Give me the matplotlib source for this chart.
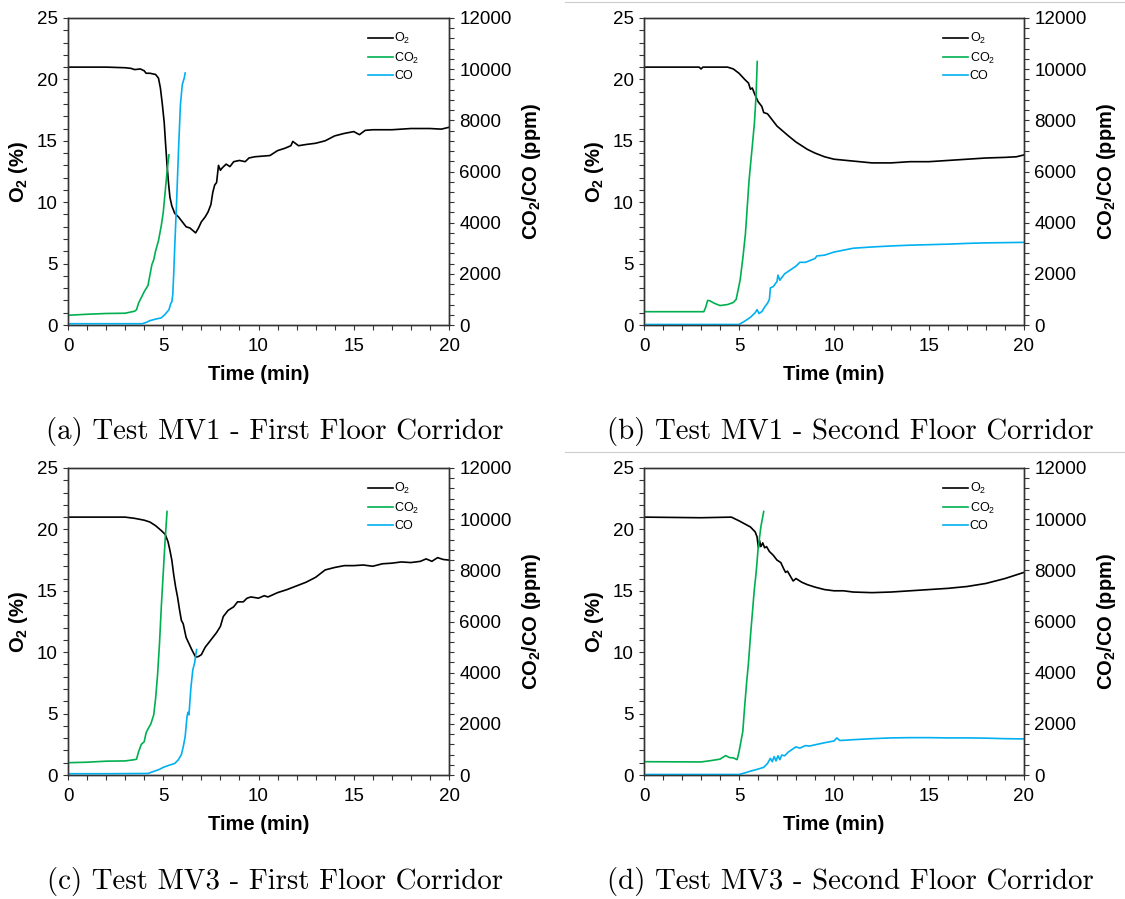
import matplotlib
matplotlib.use('Agg')
import matplotlib.pyplot as plt
from matplotlib.lines import Line2D
from matplotlib.ticker import MultipleLocator

plt.rcParams['font.family'] = ['Liberation Sans', 'DejaVu Sans']
plt.rcParams['mathtext.fontset'] = 'custom'
plt.rcParams['mathtext.rm'] = 'Liberation Sans'
plt.rcParams['mathtext.bf'] = 'Liberation Sans:bold'
plt.rcParams['mathtext.default'] = 'regular'

# ---- (a) MV1 first floor ----
t_o2_a = [0, 1, 2, 3, 3.3, 3.5, 3.8, 4.0, 4.1, 4.3, 4.6, 4.75, 4.85, 4.95, 5.05, 5.12, 5.2, 5.28,
          5.35, 5.45, 5.6, 5.8, 6.0, 6.2, 6.4, 6.55, 6.7, 6.85, 7.0, 7.2, 7.35, 7.5, 7.6, 7.7, 7.8,
          7.9, 8.0, 8.1, 8.3, 8.5, 8.7, 9.0, 9.3, 9.5, 9.8, 10.2, 10.6, 11.0, 11.4, 11.7, 11.8, 12.1,
          12.5, 13.0, 13.5, 14.0, 14.5, 15.0, 15.3, 15.6, 16.0, 17.0, 18.0, 19.0, 19.6, 20.0]
o2_a = [21.0, 21.0, 21.0, 20.95, 20.9, 20.8, 20.85, 20.7, 20.5, 20.5, 20.4, 20.1, 19.3, 18.0, 16.5,
        14.8, 13.0, 11.5, 10.4, 9.7, 9.1, 8.8, 8.4, 8.0, 7.9, 7.7, 7.5, 7.9, 8.4, 8.8, 9.2, 9.8, 10.8,
        11.4, 11.6, 13.0, 12.6, 12.8, 13.1, 12.9, 13.3, 13.4, 13.3, 13.6, 13.7, 13.75, 13.8, 14.2,
        14.4, 14.6, 14.95, 14.6, 14.7, 14.8, 15.0, 15.4, 15.6, 15.75, 15.5, 15.85, 15.9, 15.9, 16.0,
        16.0, 15.95, 16.1]
t_co2_a = [0, 1, 2, 3, 3.5, 3.6, 3.7, 3.8, 4.0, 4.2, 4.4, 4.5, 4.6, 4.75, 4.9, 5.0, 5.1, 5.2, 5.3]
co2_a = [380, 420, 450, 460, 540, 600, 850, 1000, 1300, 1550, 2350, 2550, 2900, 3300, 3900, 4400,
         5200, 6000, 6650]
t_co_a = [0, 2, 3.9, 4.1, 4.3, 4.6, 4.9, 5.1, 5.3, 5.4, 5.45, 5.5, 5.55, 5.6, 5.7, 5.8, 5.9, 6.0,
          6.1, 6.15]
co_a = [50, 50, 50, 100, 170, 230, 280, 420, 600, 850, 900, 1200, 2000, 3000, 4800, 6800, 8600,
        9400, 9650, 9850]

# ---- (b) MV1 second floor ----
t_o2_b = [0, 2.9, 3.0, 3.1, 4.4, 4.7, 5.0, 5.3, 5.5, 5.6, 5.7, 5.8, 6.0, 6.2, 6.3, 6.5, 6.8, 7.0,
          7.3, 7.6, 8.0, 8.3, 8.6, 9.0, 9.5, 10.0, 11.0, 12.0, 13.0, 14.0, 15.0, 16.0, 17.0, 18.0,
          19.0, 19.6, 20.0]
o2_b = [21.0, 21.0, 20.85, 21.0, 21.0, 20.85, 20.5, 20.0, 19.7, 19.2, 19.3, 18.9, 18.2, 17.8, 17.3,
        17.2, 16.6, 16.2, 15.8, 15.4, 14.9, 14.6, 14.3, 14.0, 13.7, 13.5, 13.35, 13.2, 13.2, 13.3,
        13.3, 13.4, 13.5, 13.6, 13.65, 13.7, 13.85]
t_co2_b = [0, 3.15, 3.25, 3.35, 3.45, 3.7, 4.0, 4.4, 4.7, 4.85, 5.06, 5.2, 5.34, 5.53, 5.7, 5.81,
           5.9, 5.96]
co2_b = [520, 520, 700, 960, 950, 850, 760, 800, 880, 1000, 1760, 2600, 3580, 5660, 7000, 7880,
         9000, 10300]
t_co_b = [0, 5.0, 5.3, 5.6, 5.85, 5.95, 6.05, 6.2, 6.35, 6.5, 6.6, 6.65, 6.8, 7.0, 7.05, 7.15, 7.4,
          7.7, 8.0, 8.2, 8.5, 9.0, 9.1, 9.5, 10.0, 11.0, 12.0, 13.0, 14.0, 15.0, 16.0, 17.0, 18.0,
          19.0, 20.0]
co_b = [20, 20, 150, 300, 480, 600, 450, 520, 700, 850, 1000, 1450, 1500, 1700, 1950, 1750, 2000,
        2150, 2300, 2450, 2450, 2600, 2700, 2730, 2850, 3000, 3050, 3090, 3120, 3140, 3160, 3190,
        3210, 3220, 3230]

# ---- (c) MV3 first floor ----
t_o2_c = [0, 3, 3.5, 4, 4.3, 4.6, 4.9, 5.1, 5.25, 5.35, 5.45, 5.55, 5.65, 5.75, 5.85, 5.95, 6.05,
          6.2, 6.35, 6.5, 6.7, 6.85, 7.0, 7.2, 7.5, 7.8, 8.0, 8.15, 8.4, 8.7, 8.9, 9.2, 9.4, 9.6,
          10.0, 10.3, 10.5, 11.0, 11.5, 12.0, 12.5, 13.0, 13.5, 14.0, 14.5, 15.0, 15.5, 16.0, 16.5,
          17.0, 17.5, 18.0, 18.5, 18.8, 19.1, 19.4, 19.7, 20.0]
o2_c = [21.0, 21.0, 20.9, 20.75, 20.6, 20.3, 19.9, 19.6, 19.0, 18.3, 17.5, 16.3, 15.3, 14.5, 13.5,
        12.6, 12.3, 11.2, 10.7, 10.2, 9.6, 9.65, 9.8, 10.4, 11.0, 11.6, 12.1, 12.9, 13.4, 13.7, 14.1,
        14.1, 14.4, 14.5, 14.4, 14.6, 14.5, 14.85, 15.1, 15.4, 15.7, 16.1, 16.7, 16.9, 17.05, 17.05,
        17.1, 17.0, 17.2, 17.25, 17.35, 17.3, 17.4, 17.6, 17.4, 17.7, 17.55, 17.5]
t_co2_c = [0, 1, 2, 3, 3.5, 3.6, 3.7, 3.85, 4.0, 4.1, 4.2, 4.35, 4.5, 4.6, 4.7, 4.8, 4.9, 5.0, 5.1,
           5.2]
co2_c = [480, 500, 540, 550, 600, 620, 900, 1200, 1300, 1650, 1800, 2000, 2350, 3000, 3900, 5100,
         6600, 7900, 9200, 10300]
t_co_c = [0, 2, 4.2, 4.5, 4.8, 5.0, 5.3, 5.6, 5.8, 5.95, 6.05, 6.15, 6.2, 6.25, 6.3, 6.35, 6.45,
          6.55, 6.65, 6.75]
co_c = [50, 50, 60, 140, 220, 300, 380, 450, 600, 800, 1100, 1500, 1900, 2300, 2450, 2350, 3400,
        4100, 4400, 4900]

# ---- (d) MV3 second floor ----
t_o2_d = [0, 3, 4.6, 4.8, 5.0, 5.3, 5.6, 5.85, 5.95, 6.02, 6.08, 6.15, 6.25, 6.35, 6.45, 6.6, 6.8,
          7.0, 7.2, 7.35, 7.45, 7.55, 7.7, 7.85, 8.0, 8.3, 8.6, 9.0, 9.5, 10.0, 10.5, 11.0, 12.0,
          13.0, 14.0, 15.0, 16.0, 17.0, 18.0, 19.0, 20.0]
o2_d = [21.0, 20.95, 21.0, 20.85, 20.7, 20.45, 20.2, 19.8, 19.4, 18.5, 19.1, 18.6, 18.9, 18.5, 18.6,
        18.2, 17.9, 17.5, 17.3, 16.8, 16.5, 16.6, 16.2, 15.8, 16.0, 15.7, 15.5, 15.3, 15.1, 15.0,
        15.0, 14.9, 14.85, 14.9, 15.0, 15.1, 15.2, 15.35, 15.6, 16.0, 16.5]
t_co2_d = [0, 3.0, 3.5, 4.0, 4.3, 4.5, 4.7, 4.9, 5.0, 5.1, 5.2, 5.3, 5.4, 5.5, 5.6, 5.7, 5.8, 5.9,
           6.0, 6.15, 6.3]
co2_d = [520, 510, 560, 620, 760, 680, 670, 600, 900, 1300, 1700, 2700, 3600, 4400, 5400, 6300,
         7200, 7900, 8800, 9700, 10300]
t_co_d = [0, 5.0, 5.3, 5.6, 6.0, 6.3, 6.5, 6.65, 6.75, 6.85, 6.95, 7.05, 7.15, 7.25, 7.4, 7.6, 7.8,
          8.0, 8.2, 8.5, 8.7, 9.0, 9.5, 10.0, 10.15, 10.3, 10.6, 11.0, 11.5, 12.0, 13.0, 14.0, 15.0,
          16.0, 17.0, 18.0, 19.0, 20.0]
co_d = [20, 20, 80, 150, 230, 300, 450, 650, 520, 720, 550, 750, 600, 780, 750, 900, 1000, 1100,
        1050, 1150, 1130, 1180, 1260, 1330, 1450, 1350, 1360, 1380, 1400, 1420, 1450, 1460, 1460,
        1450, 1450, 1440, 1420, 1410]

captions = ["(a) Test MV1 - First Floor Corridor", "(b) Test MV1 - Second Floor Corridor",
            "(c) Test MV3 - First Floor Corridor", "(d) Test MV3 - Second Floor Corridor"]

panels = [
    (t_o2_a, o2_a, t_co2_a, co2_a, t_co_a, co_a),
    (t_o2_b, o2_b, t_co2_b, co2_b, t_co_b, co_b),
    (t_o2_c, o2_c, t_co2_c, co2_c, t_co_c, co_c),
    (t_o2_d, o2_d, t_co2_d, co2_d, t_co_d, co_d),
]

W, H = 1125, 899
fig = plt.figure(figsize=(W / 100, H / 100), dpi=100)

# axes boxes in pixels: left, right, top, bottom
boxes = [(68, 449, 18, 325), (644, 1024, 18, 325), (68, 449, 468, 775), (644, 1024, 468, 775)]
cap_pos = [(275, 432), (850, 432), (275, 881), (850, 881)]

spine_col = '#333333'
c_o2, c_co2, c_co = 'black', '#00b050', '#00b0f0'

for i, (box, data) in enumerate(zip(boxes, panels)):
    l, r, t, b = box
    ax = fig.add_axes([l / W, (H - b) / H, (r - l) / W, (b - t) / H])
    ax2 = ax.twinx()
    t1, o2, t2, co2, t3, co = data
    h1, = ax.plot(t1, o2, color=c_o2, lw=1.2, label='O$_2$')
    h2, = ax2.plot(t2, co2, color=c_co2, lw=1.2, label='CO$_2$')
    h3, = ax2.plot(t3, co, color=c_co, lw=1.2, label='CO')

    ax.set_xlim(0, 20)
    ax.set_ylim(0, 25)
    ax2.set_ylim(0, 12000)
    ax.xaxis.set_major_locator(MultipleLocator(5))
    ax.xaxis.set_minor_locator(MultipleLocator(1))
    ax.yaxis.set_major_locator(MultipleLocator(5))
    ax.yaxis.set_minor_locator(MultipleLocator(1))
    ax2.yaxis.set_major_locator(MultipleLocator(2000))
    ax2.yaxis.set_minor_locator(MultipleLocator(400))

    for a in (ax, ax2):
        for s in a.spines.values():
            s.set_color(spine_col)
            s.set_linewidth(1.0)
        a.tick_params(which='both', direction='out', length=3.5, width=0.8, color=spine_col,
                      labelsize=13.5, pad=4)
    ax.tick_params(axis='x', pad=6)

    ax.set_xlabel('Time (min)', fontsize=14.5, fontweight='bold', labelpad=7)
    ax.set_ylabel(r'$\mathbf{O_2}$ (%)', fontsize=14.5, fontweight='bold', labelpad=5)
    ax2.set_ylabel(r'$\mathbf{CO_2}$/CO (ppm)', fontsize=14.5, fontweight='bold', labelpad=6)

    leg = ax2.legend(handles=[h1, h2, h3], loc='upper left', bbox_to_anchor=(0.765, 0.985),
                     frameon=False, fontsize=9, handlelength=2.0, handletextpad=0.1,
                     labelspacing=0.35, borderpad=0.2)

    cx, cy = cap_pos[i]
    fig.text(cx / W, (H - cy) / H, captions[i], family='cmr10', fontsize=20.8,
             ha='center', va='center')

# thin separator lines above the right-hand panels
for y in (2, 452):
    fig.add_artist(Line2D([565 / W, 1.0], [(H - y) / H] * 2, color='#cccccc', lw=0.8))

fig.savefig('out.png', dpi=100)
